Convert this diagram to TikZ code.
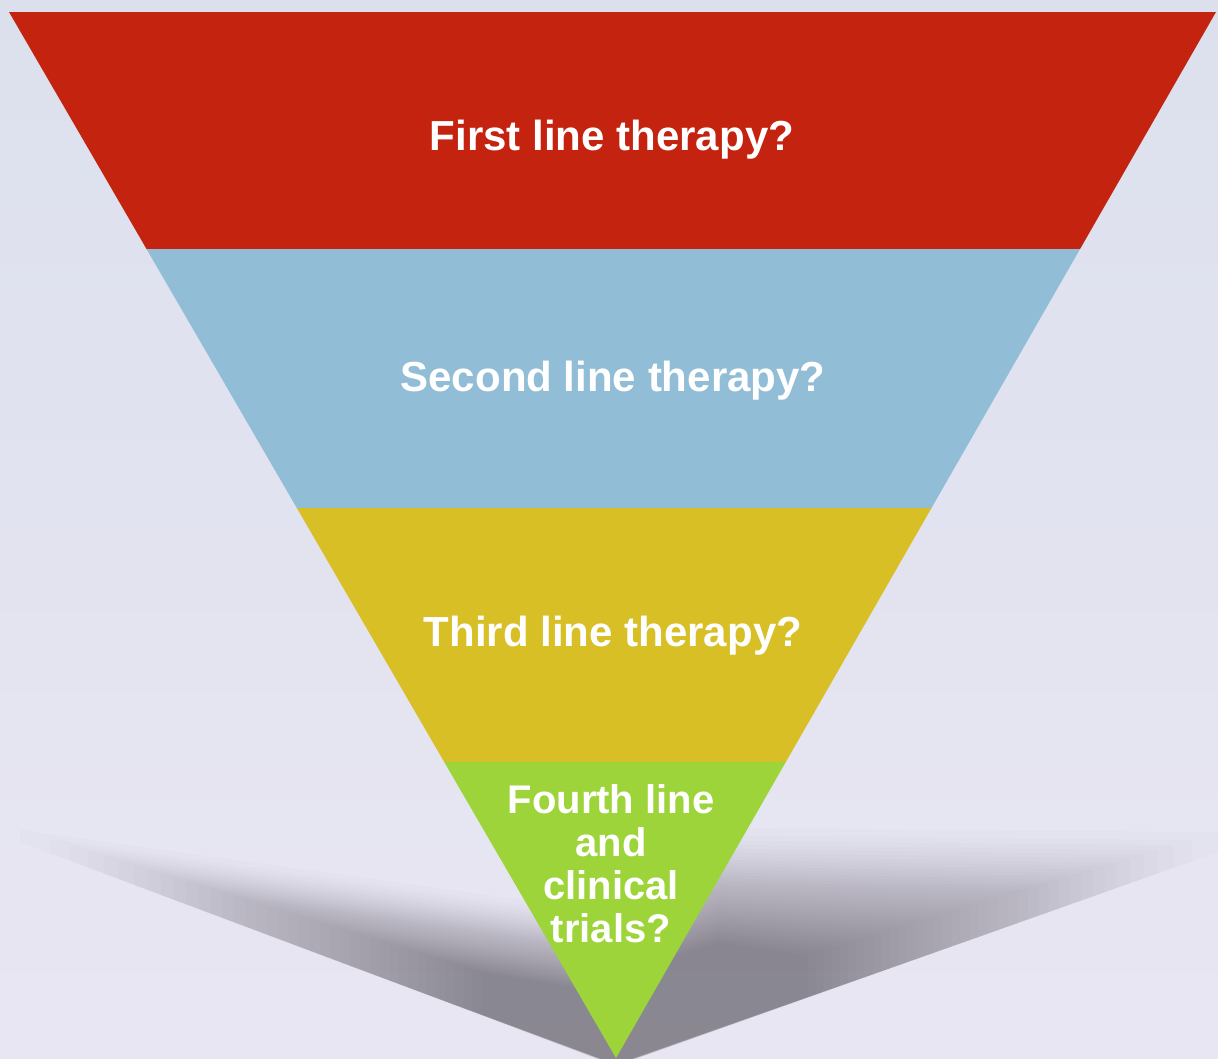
\documentclass[tikz,border=0pt]{standalone}
\usepackage{fontspec}
\setmainfont{Liberation Sans}
\usetikzlibrary{calc}
\definecolor{bgtop}{HTML}{DCE0ED}
\definecolor{bgbot}{HTML}{E9E6F3}
\definecolor{bandred}{HTML}{C4230F}
\definecolor{bandblue}{HTML}{92BDD7}
\definecolor{bandyellow}{HTML}{D8BF26}
\definecolor{bandgreen}{HTML}{9DD43A}
\definecolor{shadowcol}{HTML}{3E3B40}
\begin{document}
\begin{tikzpicture}[x=1pt,y=-1pt,
  lbl/.style={text=white,font=\fontsize{42}{43}\selectfont\bfseries,anchor=base,inner sep=0pt},
  lblsmall/.style={text=white,font=\fontsize{40}{43}\selectfont\bfseries,anchor=north,inner sep=0pt,align=center},
  shadowlayer/.style={fill=shadowcol,opacity=0.015}]
% background
\fill[top color=bgtop,bottom color=bgbot] (0,0) rectangle (1218,1058);
\useasboundingbox (0,0) rectangle (1218,1058);
% shadow: outer outline and dark core, blended by many faint layers
\coordinate (O1) at (20,830);
\coordinate (O2) at (560,905);
\coordinate (O3) at (616,870);
\coordinate (O4) at (720,828);
\coordinate (O5) at (1218,832);
\coordinate (O6) at (1218,852);
\coordinate (O7) at (616,1066);
\coordinate (O8) at (20,842);
\coordinate (C1) at (490,975);
\coordinate (C2) at (580,990);
\coordinate (C3) at (616,975);
\coordinate (C4) at (720,945);
\coordinate (C5) at (800,958);
\coordinate (C6) at (800,1000);
\coordinate (C7) at (616,1064);
\coordinate (C8) at (490,1018);
\foreach \i in {0,...,39}{
  \pgfmathsetmacro\t{(\i/40)^0.75}
  \fill[shadowlayer] ($(O1)!\t!(C1)$) -- ($(O2)!\t!(C2)$) -- ($(O3)!\t!(C3)$) -- ($(O4)!\t!(C4)$)
    -- ($(O5)!\t!(C5)$) -- ($(O6)!\t!(C6)$) -- ($(O7)!\t!(C7)$) -- ($(O8)!\t!(C8)$) -- cycle;
}
% inverted pyramid
\coordinate (TL) at (9,12);
\coordinate (TR) at (1216,12);
\coordinate (AP) at (616,1058);
\fill[bandred] (TL) -- (TR) -- ($(TR)!0.2266!(AP)$) -- ($(TL)!0.2266!(AP)$) -- cycle;
\fill[bandblue] ($(TL)!0.2266!(AP)$) -- ($(TR)!0.2266!(AP)$) -- ($(TR)!0.4742!(AP)$) -- ($(TL)!0.4742!(AP)$) -- cycle;
\fill[bandyellow] ($(TL)!0.4742!(AP)$) -- ($(TR)!0.4742!(AP)$) -- ($(TR)!0.7170!(AP)$) -- ($(TL)!0.7170!(AP)$) -- cycle;
\fill[bandgreen] ($(TL)!0.7170!(AP)$) -- ($(TR)!0.7170!(AP)$) -- (AP) -- cycle;
% labels
\node[lbl] (first) at (612,150) {First line therapy?};
\node[lbl] (second) at (613,391) {Second line therapy?};
\node[lbl] (third) at (613,646) {Third line therapy?};
\node[lblsmall] (fourth) at (611,784) {Fourth line\\and\\clinical\\trials?};
\end{tikzpicture}
\end{document}
